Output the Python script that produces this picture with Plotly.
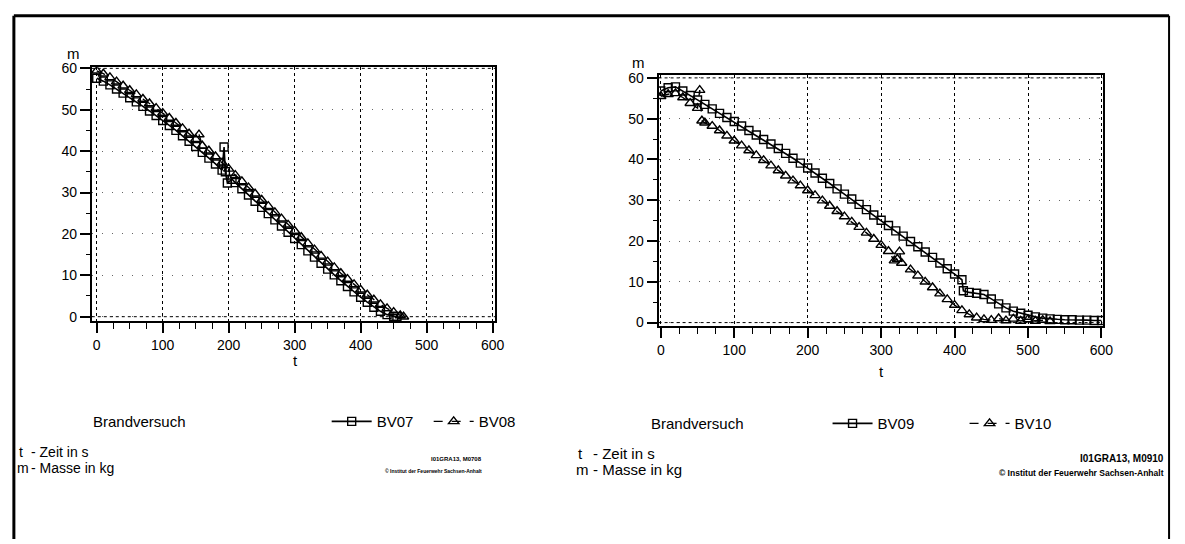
import plotly.graph_objects as go

W, H = 1185, 544
FONT = "Arial, Liberation Sans, sans-serif"

# ---- Brandversuch BV07 / BV08 : Masse m (kg) über Zeit t (s) ----
t_bv07 = [0, 10, 20, 30, 40, 50, 60, 70, 80, 90, 100, 110, 120, 130, 140, 150, 160, 170, 180, 190,
          193, 195, 198, 205, 210, 220, 230, 240, 250, 260, 270, 280, 290, 300, 310, 320, 330, 340,
          350, 360, 370, 380, 390, 400, 410, 420, 430, 440, 450, 455]
m_bv07 = [57.6, 56.9, 56.0, 55.0, 54.0, 52.9, 51.9, 50.8, 49.7, 48.6, 47.4, 46.2, 45.0, 43.7, 42.4,
          41.1, 39.7, 38.3, 36.9, 35.4, 41.0, 35.0, 32.3, 33.2, 32.4, 30.9, 29.4, 27.9, 26.4, 24.9,
          23.4, 21.9, 20.4, 18.9, 17.4, 15.9, 14.4, 12.9, 11.5, 10.1, 8.7, 7.3, 6.0, 4.7, 3.5, 2.3,
          1.3, 0.5, 0.1, 0.0]

t_bv08 = [0, 10, 20, 30, 40, 50, 60, 70, 80, 90, 100, 110, 120, 130, 140, 150, 155, 160, 170, 180,
          190, 200, 210, 220, 230, 240, 250, 260, 270, 280, 290, 300, 310, 320, 330, 340, 350, 360,
          370, 380, 390, 400, 410, 420, 430, 440, 450, 460, 465]
m_bv08 = [59.4, 58.7, 57.8, 56.8, 55.8, 54.7, 53.7, 52.6, 51.5, 50.4, 49.2, 48.0, 46.8, 45.5, 44.2,
          42.9, 44.0, 41.3, 40.1, 38.7, 37.2, 35.7, 34.2, 32.7, 31.2, 29.7, 28.2, 26.7, 25.2, 23.7,
          22.2, 20.7, 19.2, 17.7, 16.2, 14.7, 13.3, 11.9, 10.5, 9.1, 7.8, 6.5, 5.3, 4.1, 3.0, 2.0,
          1.1, 0.3, 0.0]

# ---- Brandversuch BV09 / BV10 ----
t_bv09 = [0, 10, 20, 30, 40, 50, 60, 70, 80, 90, 100, 110, 120, 130, 140, 150, 160, 170, 180, 190,
          200, 210, 220, 230, 240, 250, 260, 270, 280, 290, 300, 310, 320, 330, 340, 350, 360, 370,
          380, 390, 400, 410, 412, 420, 430, 440, 450, 460, 470, 480, 490, 500, 510, 520, 530, 540,
          550, 560, 570, 580, 590, 600]
m_bv09 = [56.8, 57.6, 57.8, 56.8, 55.7, 54.6, 53.5, 52.4, 51.3, 50.3, 49.3, 48.2, 47.1, 46.0, 44.9,
          43.8, 42.7, 41.5, 40.3, 39.1, 37.9, 36.7, 35.4, 34.1, 32.8, 31.5, 30.3, 29.0, 27.7, 26.4,
          25.1, 23.8, 22.5, 21.2, 19.9, 18.6, 17.3, 16.0, 14.6, 13.2, 11.9, 10.5, 7.8, 7.4, 7.2,
          6.9, 5.8, 4.6, 3.6, 2.8, 2.3, 1.8, 1.4, 1.1, 0.9, 0.8, 0.7, 0.7, 0.6, 0.6, 0.5, 0.5]

t_bv10 = [0, 10, 20, 30, 40, 50, 53, 56, 60, 70, 80, 90, 100, 110, 120, 130, 140, 150, 160, 170,
          180, 190, 200, 210, 220, 230, 240, 250, 260, 270, 280, 290, 300, 310, 318, 322, 325, 328,
          340, 350, 360, 370, 380, 390, 400, 410, 420, 430, 440, 450, 460, 470, 480, 490, 500, 510,
          520, 530]
m_bv10 = [55.5, 56.0, 56.2, 55.2, 53.8, 52.6, 57.0, 49.5, 49.0, 48.2, 47.1, 45.8, 44.6, 43.4, 42.2,
          41.0, 39.8, 38.5, 37.3, 36.0, 34.8, 33.6, 32.4, 31.2, 29.9, 28.6, 27.3, 26.0, 24.7, 23.4,
          22.0, 20.5, 19.0, 17.5, 15.2, 15.6, 17.4, 14.6, 13.0, 11.5, 10.0, 8.6, 7.1, 5.7, 4.3, 3.0,
          2.0, 1.2, 0.8, 0.6, 1.0, 0.5, 0.9, 0.4, 0.8, 0.4, 0.6, 0.3]

t_ticks = [0, 100, 200, 300, 400, 500, 600]
m_ticks = [0, 10, 20, 30, 40, 50, 60]


def px_x(p):
    return p / W


def px_y(p):
    return 1 - p / H


fig = go.Figure()

square_style = dict(symbol="square-open", size=8, color="black", line=dict(width=1.4, color="black"))
tri_style = dict(symbol="triangle-up-open", size=9, color="black", line=dict(width=1.4, color="black"))

fig.add_trace(go.Scatter(x=t_bv07, y=m_bv07, name="BV07", mode="lines+markers",
                         line=dict(color="black", width=1.6), marker=square_style,
                         xaxis="x", yaxis="y", legend="legend"))
fig.add_trace(go.Scatter(x=t_bv08, y=m_bv08, name="BV08", mode="lines+markers",
                         line=dict(color="black", width=1.4, dash="dash"), marker=tri_style,
                         xaxis="x", yaxis="y", legend="legend"))
fig.add_trace(go.Scatter(x=t_bv09, y=m_bv09, name="BV09", mode="lines+markers",
                         line=dict(color="black", width=1.6), marker=square_style,
                         xaxis="x2", yaxis="y2", legend="legend2"))
fig.add_trace(go.Scatter(x=t_bv10, y=m_bv10, name="BV10", mode="lines+markers",
                         line=dict(color="black", width=1.4, dash="dash"), marker=tri_style,
                         xaxis="x2", yaxis="y2", legend="legend2"))


def x_axis(domain, rng, anchor):
    return dict(domain=domain, range=rng, anchor=anchor, tickvals=t_ticks,
                showline=True, linecolor="black", linewidth=2, mirror=True,
                ticks="outside", ticklen=10, tickwidth=1.5, tickcolor="black",
                tickfont=dict(family=FONT, size=14, color="black"),
                showgrid=True, gridcolor="black", gridwidth=1, griddash="dot",
                zeroline=False,
                minor=dict(dtick=25, tick0=0, ticks="outside", ticklen=6, tickwidth=1,
                           tickcolor="black", showgrid=False))


def y_axis(domain, rng, anchor):
    return dict(domain=domain, range=rng, anchor=anchor, tickvals=m_ticks,
                showline=True, linecolor="black", linewidth=2, mirror=True,
                ticks="outside", ticklen=10, tickwidth=1.5, tickcolor="black",
                tickfont=dict(family=FONT, size=14, color="black"),
                showgrid=True, gridcolor="#666666", gridwidth=1, griddash="1px,9px",
                zeroline=False,
                minor=dict(dtick=5, tick0=0, ticks="outside", ticklen=4, tickwidth=1,
                           tickcolor="black", showgrid=False))


fig.update_layout(
    width=W, height=H,
    margin=dict(l=0, r=0, t=0, b=0),
    paper_bgcolor="white", plot_bgcolor="white",
    font=dict(family=FONT, color="black"),
    xaxis=x_axis([px_x(90.7), px_x(498.3)], [-7.5, 604], "y"),
    yaxis=y_axis([px_y(321), px_y(61.7)], [-1.02, 60.24], "x"),
    xaxis2=x_axis([px_x(663.3), px_x(1112.2)], [-3, 602], "y2"),
    yaxis2=y_axis([px_y(326), px_y(70)], [-0.79, 60.6], "x2"),
    legend=dict(x=px_x(328), y=px_y(424), xanchor="left", yanchor="middle", orientation="h",
                font=dict(family=FONT, size=15, color="black"), bgcolor="rgba(0,0,0,0)",
                itemwidth=40, entrywidth=47, traceorder="normal"),
    legend2=dict(x=px_x(834), y=px_y(426), xanchor="left", yanchor="middle", orientation="h",
                 font=dict(family=FONT, size=15, color="black"), bgcolor="rgba(0,0,0,0)",
                 itemwidth=40, entrywidth=82, traceorder="normal"),
    showlegend=True,
)

# dotted bounding lines at m = 0 and m = 60 inside each frame
for xr, yr in (("x", "y"), ("x2", "y2")):
    for level in (0, 60):
        fig.add_shape(type="line", xref=f"{xr} domain", yref=yr, x0=0, x1=1, y0=level, y1=level,
                      line=dict(color="black", width=1, dash="dot"))

# outer sheet border (top, left, right)
fig.add_shape(type="line", xref="paper", yref="paper", x0=px_x(12), x1=px_x(1179),
              y0=px_y(9), y1=px_y(9), line=dict(color="black", width=3))
fig.add_shape(type="line", xref="paper", yref="paper", x0=px_x(12), x1=px_x(12),
              y0=px_y(9), y1=px_y(544), line=dict(color="black", width=3))
fig.add_shape(type="line", xref="paper", yref="paper", x0=px_x(1179), x1=px_x(1179),
              y0=px_y(9), y1=px_y(544), line=dict(color="black", width=2))


def label(text, x, y, size=15, xanchor="center", yanchor="middle", bold=False):
    fig.add_annotation(text=f"<b>{text}</b>" if bold else text, xref="paper", yref="paper",
                       x=px_x(x), y=px_y(y), xanchor=xanchor, yanchor=yanchor, showarrow=False,
                       font=dict(family=FONT, size=size, color="black"))


# axis symbols
label("m", 72, 48, size=15)
label("t", 296, 361, size=15)
label("m", 643, 57, size=15)
label("t", 888, 373, size=15)

# legend headings
label("Brandversuch", 139, 424, size=15)
label("Brandversuch", 703, 426, size=15)

# symbol explanations
label("t", 15, 455, size=14, xanchor="left")
label("- Zeit in s", 27, 455, size=14, xanchor="left")
label("m", 13, 471, size=14, xanchor="left")
label("- Masse in kg", 27, 471, size=14, xanchor="left")
label("t", 580, 457, size=15, xanchor="left")
label("- Zeit in s", 595, 457, size=15, xanchor="left")
label("m", 578, 473, size=15, xanchor="left")
label("- Masse in kg", 595, 473, size=15, xanchor="left")

# document references
label("I01GRA13, M0708", 487, 462, size=6, xanchor="right", bold=True)
label("© Institut der Feuerwehr Sachsen-Anhalt", 487, 474, size=5, xanchor="right", bold=True)
label("I01GRA13, M0910", 1176, 462, size=10, xanchor="right", bold=True)
label("© Institut der Feuerwehr Sachsen-Anhalt", 1176, 476, size=8.5, xanchor="right", bold=True)

fig.write_html("out.html")
